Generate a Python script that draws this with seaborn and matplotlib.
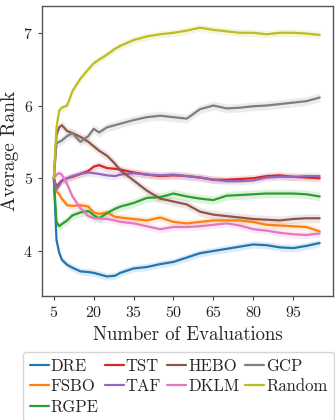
import numpy as np
import pandas as pd
import matplotlib
matplotlib.use("Agg")
import matplotlib.pyplot as plt
import seaborn as sns

evals = [5, 6, 7, 8, 10, 12, 15, 18, 20, 22, 25, 28, 30, 35, 40, 45, 50, 55, 60, 65, 70, 75, 80, 85, 90, 95, 100, 105]

DRE = [5.00, 4.15, 3.98, 3.88, 3.81, 3.77, 3.72, 3.71, 3.70, 3.68, 3.65, 3.66, 3.70, 3.76, 3.78, 3.82, 3.85, 3.91, 3.97, 4.00, 4.03, 4.06, 4.09, 4.08, 4.05, 4.04, 4.07, 4.11]
FSBO = [5.00, 4.82, 4.78, 4.72, 4.63, 4.62, 4.63, 4.61, 4.53, 4.51, 4.53, 4.47, 4.46, 4.44, 4.42, 4.46, 4.40, 4.38, 4.40, 4.42, 4.42, 4.42, 4.40, 4.36, 4.35, 4.34, 4.33, 4.27]
RGPE = [5.00, 4.40, 4.34, 4.37, 4.42, 4.49, 4.53, 4.55, 4.49, 4.45, 4.52, 4.58, 4.61, 4.66, 4.73, 4.74, 4.79, 4.75, 4.72, 4.70, 4.76, 4.77, 4.78, 4.79, 4.79, 4.79, 4.78, 4.75]
TST = [5.00, 4.88, 4.93, 4.97, 5.00, 5.02, 5.06, 5.10, 5.16, 5.18, 5.14, 5.13, 5.12, 5.08, 5.05, 5.03, 5.04, 5.03, 5.01, 4.98, 4.98, 4.99, 5.00, 5.03, 5.04, 5.02, 5.01, 5.00]
TAF = [5.00, 4.85, 4.90, 4.96, 5.00, 5.03, 5.06, 5.08, 5.07, 5.06, 5.04, 5.03, 5.05, 5.07, 5.05, 5.04, 5.05, 5.03, 5.01, 4.98, 4.96, 4.96, 4.97, 5.01, 5.02, 5.02, 5.03, 5.03]
HEBO = [5.00, 5.60, 5.70, 5.73, 5.65, 5.62, 5.57, 5.50, 5.44, 5.38, 5.31, 5.20, 5.11, 4.97, 4.83, 4.72, 4.68, 4.64, 4.54, 4.50, 4.48, 4.46, 4.44, 4.43, 4.42, 4.44, 4.45, 4.45]
DKLM = [5.00, 5.05, 5.07, 5.05, 4.92, 4.75, 4.59, 4.48, 4.45, 4.45, 4.44, 4.42, 4.40, 4.38, 4.34, 4.30, 4.33, 4.33, 4.34, 4.36, 4.38, 4.35, 4.30, 4.28, 4.25, 4.23, 4.22, 4.24]
GCP = [5.00, 5.48, 5.50, 5.52, 5.58, 5.62, 5.50, 5.58, 5.68, 5.63, 5.70, 5.73, 5.75, 5.80, 5.84, 5.86, 5.84, 5.82, 5.95, 6.00, 5.96, 5.97, 5.99, 6.00, 6.02, 6.04, 6.06, 6.11]
Random = [5.00, 5.70, 5.93, 5.97, 6.00, 6.20, 6.37, 6.50, 6.58, 6.63, 6.70, 6.78, 6.82, 6.90, 6.95, 6.98, 7.00, 7.03, 7.07, 7.04, 7.02, 7.00, 7.00, 6.98, 7.00, 7.00, 6.99, 6.97]

methods = ["DRE", "FSBO", "RGPE", "TST", "TAF", "HEBO", "DKLM", "GCP", "Random"]
series = [DRE, FSBO, RGPE, TST, TAF, HEBO, DKLM, GCP, Random]
band = [0.05, 0.05, 0.06, 0.05, 0.05, 0.06, 0.05, 0.06, 0.05]

xticks = [5, 20, 35, 50, 65, 80, 95]
yticks = [4, 5, 6, 7]

sns.set_style("ticks")
plt.rcParams["font.family"] = ["cmr10", "DejaVu Serif"]
plt.rcParams["axes.formatter.use_mathtext"] = True
plt.rcParams["mathtext.fontset"] = "cm"

df = pd.DataFrame({
    "Number of Evaluations": np.tile(evals, len(methods)),
    "Average Rank": np.concatenate(series),
    "Method": np.repeat(methods, len(evals)),
})

palette = sns.color_palette("tab10", len(methods))

fig = plt.figure(figsize=(3.35, 4.2), dpi=100)
ax = fig.add_axes([0.125, 0.295, 0.869, 0.691])

for m, s, b, c in zip(methods, series, band, palette):
    s = np.asarray(s)
    ax.fill_between(evals, s - b, s + b, color=c, alpha=0.14, linewidth=0)

sns.lineplot(data=df, x="Number of Evaluations", y="Average Rank", hue="Method",
             hue_order=methods, palette=palette, linewidth=1.6, ax=ax, legend=True)

ax.set_xlim(0.5, 110)
ax.set_ylim(3.38, 7.37)
ax.set_xticks(xticks)
ax.set_yticks(yticks)
ax.tick_params(labelsize=11.5, length=3, width=0.8, color="#444444")
ax.set_xlabel("Number of Evaluations", fontsize=13.5)
ax.set_ylabel("Average Rank", fontsize=14, labelpad=3)
for sp in ax.spines.values():
    sp.set_visible(True)
    sp.set_color("#555555")
    sp.set_linewidth(1.0)

handles, labels = ax.get_legend_handles_labels()
ax.get_legend().remove()
fig.legend(handles, labels, ncol=4, loc="upper left",
           bbox_to_anchor=(23 / 335, 1 - 352 / 420), fontsize=12,
           handlelength=1.15, handletextpad=0.12, columnspacing=0.35,
           labelspacing=0.3, borderpad=0.4, borderaxespad=0,
           frameon=True, fancybox=True, edgecolor="#cccccc")

fig.savefig("out.png", dpi=100)
